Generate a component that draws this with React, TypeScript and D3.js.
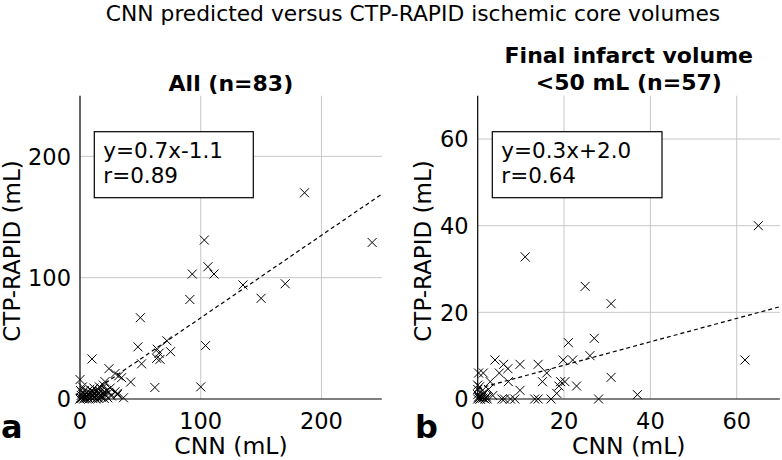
import React from "react";
import * as d3 from "d3";

// ---------- data ----------
// Panel a: All (n=83) — CNN (x) vs CTP-RAPID (y), mL
const allCNN = [
  186, 103, 106, 111, 93, 91, 135, 150, 170, 104, 100, 242,
  50, 48, 51, 62, 72, 64, 65.5, 63.5, 66.3, 75,
  10, 42, 24, 29, 32, 34.5, 0, 31, 36, 26, 20.7, 19.3, 29, 31,
  0, 0.5, 1, 1.5, 2, 2.5, 3, 3.5, 4, 4.5, 5, 5.5, 6, 6.5, 7, 7.5, 8, 8.5, 9, 9.5,
  10, 10.5, 11, 11.5, 12, 12.5, 13, 13.5, 14, 14.5, 15, 15.5, 16, 16.5, 17, 17.5,
  18, 18.5, 19, 20, 21, 22, 23, 24, 25, 2, 0.5,
];
const allRAPID = [
  170, 131, 109, 103, 103, 82, 94, 83, 95, 44, 10, 129,
  67, 43, 29, 9.5, 48, 41, 37.7, 33.5, 32.7, 39,
  33, 14, 25, 21, 19, 17.6, 16, 4.7, 1, 2.5, 14.3, 11.5, 6, 3.6,
  0, 1, 3, 0.5, 5, 2, 0, 7, 1.5, 4, 0.5, 2.5, 6, 1, 3.5, 0, 8, 2, 4.5, 1,
  6.5, 0.5, 3, 9, 1.5, 5, 0, 2.5, 7, 1, 4, 0.5, 10, 3, 6, 1.5,
  8.5, 2, 5, 0.5, 3.5, 7, 1, 5.5, 9, 10, 7,
];

// Panel b: Final infarct volume <50 mL (n=57)
const smallCNN = [
  65, 11, 24.9, 30.9, 61.9, 27, 21, 26, 19.8, 22, 30.9, 37, 28, 22.9, 20.2, 19.2,
  18.8, 17, 16, 15, 14, 14, 13.2, 9.8, 9.8, 8.6, 7.6, 6.2, 5.6, 7, 7.1, 6, 4, 5,
  2.9, 1.3, 0.2, 0, 0, 0, 0.5, 1, 1.7, 0.8, 0.3, 1.2, 18.3, 2, 0.6,
  0, 0.2, 1.5, 2.2, 0.4, 3.5, 0.9, 2.5,
];
const smallRAPID = [
  40, 32.8, 26, 22, 9, 14, 13, 10, 9, 9, 5, 1, 0, 3, 4, 4,
  3, 0, 6, 4, 8, 0, 0, 8, 2, 0, 0, 0, 0, 7, 4, 8, 9, 6,
  4, 6, 6, 3.2, 2.2, 1, 0, 1, 0, 1.7, 0.3, 0.2, 1.3, 0.5, 0,
  0, 0.5, 1.5, 0, 2.8, 0.8, 0.4, 2.2,
];

// regression fits (unrounded coefficients behind the labels)
const fitAll = { slope: 0.68, intercept: -1.1, from: 2, to: 250 };
const fitSmall = { slope: 0.27, intercept: 2.4, from: 0, to: 70 };

const ticksAll = [0, 100, 200];
const ticksSmall = [0, 20, 40, 60];

const FONT = "'DejaVu Sans', sans-serif";

type PanelProps = {
  id: string;
  xs: number[];
  ys: number[];
  domain: [number, number];
  ticks: number[];
  fit: { slope: number; intercept: number; from: number; to: number };
  left: number;
  right: number;
  eqLines: string[];
  boxX: [number, number];
  yLabelX: number;
  letter: string;
  letterX: number;
  titleLines: string[];
  titleBaselines: number[];
};

function Panel(p: PanelProps) {
  const top = 95.7;
  const bottom = 399;
  const x = d3.scaleLinear().domain(p.domain).range([p.left, p.right]);
  const y = d3.scaleLinear().domain(p.domain).range([bottom, top]);
  const cx = (p.left + p.right) / 2;
  const line = d3
    .line<number>()
    .x((v) => x(v))
    .y((v) => y(p.fit.slope * v + p.fit.intercept));
  const r = 4.5;
  return (
    <g fontFamily={FONT}>
      <defs>
        <clipPath id={`clip-${p.id}`}>
          <rect x={p.left} y={top} width={p.right - p.left} height={bottom - top} />
        </clipPath>
      </defs>
      {/* grid */}
      {p.ticks
        .filter((t) => t > 0)
        .map((t) => (
          <g key={`g${t}`} stroke="#c8c8c8" strokeWidth={1}>
            <line x1={x(t)} x2={x(t)} y1={top} y2={bottom} />
            <line x1={p.left} x2={p.right} y1={y(t)} y2={y(t)} />
          </g>
        ))}
      {/* axes */}
      <line x1={p.left} x2={p.left} y1={top} y2={bottom} stroke="#000" strokeWidth={1.2} />
      <line x1={p.left} x2={p.right} y1={bottom} y2={bottom} stroke="#000" strokeWidth={1.2} />
      {/* tick labels */}
      {p.ticks.map((t) => (
        <text key={`xt${t}`} x={x(t)} y={429} textAnchor="middle" fontSize={22.5} fill="#000">
          {t}
        </text>
      ))}
      {p.ticks.map((t) => (
        <text
          key={`yt${t}`}
          x={p.left - 9}
          y={y(t) + 8.2}
          textAnchor="end"
          fontSize={22.5}
          fill="#000"
        >
          {t}
        </text>
      ))}
      {/* points + fit */}
      <g clipPath={`url(#clip-${p.id})`}>
        <path
          d={line([p.fit.from, p.fit.to]) || ""}
          fill="none"
          stroke="#000"
          strokeWidth={1.2}
          strokeDasharray="4,3"
        />
      </g>
      <g stroke="#000" strokeWidth={1}>
        {p.xs.map((v, i) => {
          const px = x(v);
          const py = y(p.ys[i]);
          return (
            <path
              key={i}
              d={`M${px - r},${py - r}L${px + r},${py + r}M${px - r},${py + r}L${px + r},${py - r}`}
            />
          );
        })}
      </g>
      {/* equation box */}
      <rect
        x={p.boxX[0]}
        y={131.7}
        width={p.boxX[1] - p.boxX[0]}
        height={66}
        fill="#fff"
        stroke="#000"
        strokeWidth={1.2}
      />
      {p.eqLines.map((s, i) => (
        <text key={s} x={p.boxX[0] + 9} y={157.5 + i * 25.7} fontSize={21.5} fill="#000">
          {s}
        </text>
      ))}
      {/* labels */}
      <text x={cx} y={454} textAnchor="middle" fontSize={23.5} fill="#000">
        CNN (mL)
      </text>
      <text
        transform={`translate(${p.yLabelX},251) rotate(-90)`}
        textAnchor="middle"
        fontSize={23}
        fill="#000"
      >
        CTP-RAPID (mL)
      </text>
      {p.titleLines.map((s, i) => (
        <text
          key={s}
          x={cx}
          y={p.titleBaselines[i]}
          textAnchor="middle"
          fontSize={22}
          fontWeight="bold"
          fill="#000"
        >
          {s}
        </text>
      ))}
      <text x={p.letterX} y={438} fontSize={32} fontWeight="bold" fill="#000">
        {p.letter}
      </text>
    </g>
  );
}

export default function App() {
  return (
    <svg
      width={782}
      height={460}
      style={{ position: "absolute", left: 0, top: 0, background: "#fff" }}
    >
      <rect width={782} height={460} fill="#fff" />
      <text x={413} y={21} textAnchor="middle" fontSize={21.8} fontFamily={FONT} fill="#000">
        CNN predicted versus CTP-RAPID ischemic core volumes
      </text>
      <Panel
        id="a"
        xs={allCNN}
        ys={allRAPID}
        domain={[0, 250]}
        ticks={ticksAll}
        fit={fitAll}
        left={80}
        right={381.8}
        eqLines={["y=0.7x-1.1", "r=0.89"]}
        boxX={[94.3, 253.3]}
        yLabelX={20}
        letter="a"
        letterX={1}
        titleLines={["All (n=83)"]}
        titleBaselines={[91]}
      />
      <Panel
        id="b"
        xs={smallCNN}
        ys={smallRAPID}
        domain={[0, 70]}
        ticks={ticksSmall}
        fit={fitSmall}
        left={477.7}
        right={779.9}
        eqLines={["y=0.3x+2.0", "r=0.64"]}
        boxX={[492.3, 662]}
        yLabelX={431}
        letter="b"
        letterX={415}
        titleLines={["Final infarct volume", "<50 mL (n=57)"]}
        titleBaselines={[63, 90]}
      />
    </svg>
  );
}
